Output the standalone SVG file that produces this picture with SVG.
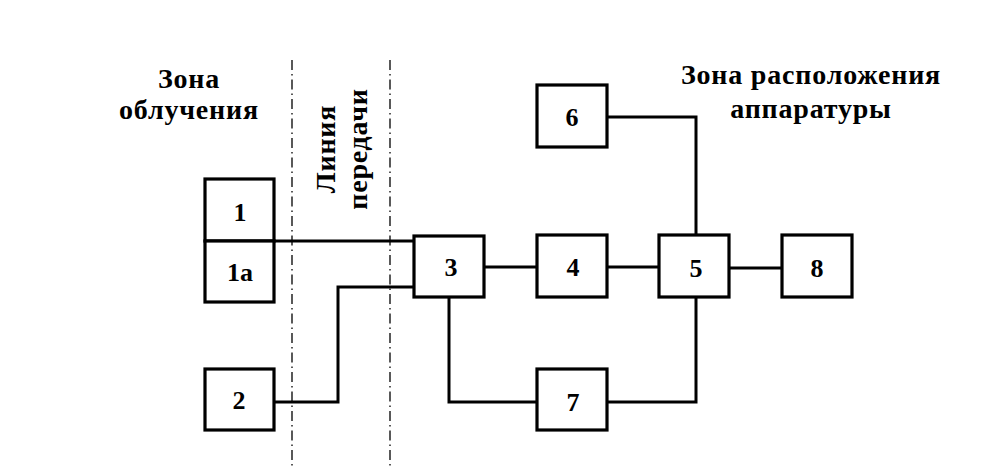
<svg xmlns="http://www.w3.org/2000/svg" width="988" height="469" viewBox="0 0 988 469">
<style>
.box{fill:#fff;stroke:#000;stroke-width:3.2}
.ln{fill:none;stroke:#000;stroke-width:3}
.dd{fill:none;stroke:#000;stroke-width:1.3;stroke-dasharray:10 4 1.5 4}
.num{font-family:"Liberation Serif","Times New Roman",serif;font-weight:bold;font-size:26px;text-anchor:middle}
.lbl{font-family:"Liberation Serif","Times New Roman",serif;font-weight:bold;font-size:28px;text-anchor:middle;letter-spacing:0.8px}
</style>
<rect width="988" height="469" fill="#fff"/>
<g id="zones">
<line class="dd" x1="292" y1="60" x2="292" y2="469"/>
<line class="dd" x1="390" y1="60" x2="390" y2="469"/>
<text class="lbl" x="189" y="88">Зона</text>
<text class="lbl" x="189" y="119">облучения</text>
<text class="lbl" x="811" y="84">Зона расположения</text>
<text class="lbl" x="811" y="118">аппаратуры</text>
<text class="lbl" transform="translate(335,149) rotate(-90)">Линия</text>
<text class="lbl" transform="translate(367,149) rotate(-90)">передачи</text>
</g>
<g id="connectors">
<polyline class="ln" points="274,241 414,241"/>
<polyline class="ln" points="274,402 338,402 338,287 414,287"/>
<polyline class="ln" points="484,267 537,267"/>
<polyline class="ln" points="607,267 659,267"/>
<polyline class="ln" points="729,268 782,268"/>
<polyline class="ln" points="607,117 696,117 696,235"/>
<polyline class="ln" points="449,297 449,402 537,402"/>
<polyline class="ln" points="607,402 696,402 696,297"/>
</g>
<g id="n1"><rect class="box" x="205" y="179" width="69" height="62"/><text class="num" x="240" y="221">1</text></g>
<g id="n1a"><rect class="box" x="205" y="241" width="69" height="61"/><text class="num" x="240" y="281">1a</text></g>
<g id="n2"><rect class="box" x="205" y="369" width="69" height="61"/><text class="num" x="239" y="409">2</text></g>
<g id="n3"><rect class="box" x="414" y="236" width="70" height="61"/><text class="num" x="451" y="276">3</text></g>
<g id="n4"><rect class="box" x="537" y="235" width="70" height="62"/><text class="num" x="573" y="276">4</text></g>
<g id="n5"><rect class="box" x="659" y="235" width="70" height="62"/><text class="num" x="696" y="277">5</text></g>
<g id="n8"><rect class="box" x="782" y="235" width="70" height="62"/><text class="num" x="817" y="277">8</text></g>
<g id="n6"><rect class="box" x="537" y="85" width="70" height="62"/><text class="num" x="572" y="126">6</text></g>
<g id="n7"><rect class="box" x="537" y="369" width="70" height="61"/><text class="num" x="573" y="411">7</text></g>
</svg>
